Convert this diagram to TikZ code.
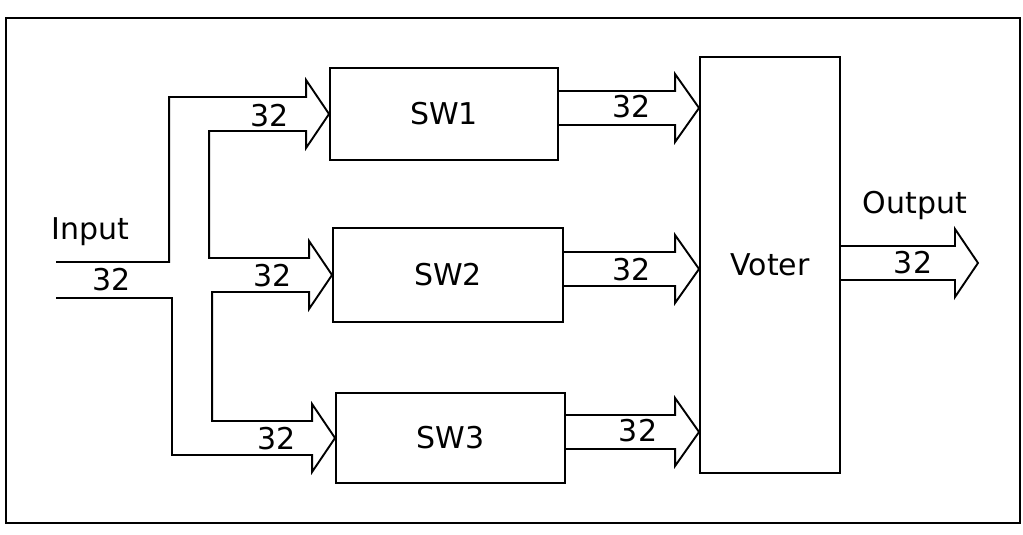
\documentclass[tikz,border=0pt]{standalone}
\usepackage{fontspec}
\setmainfont{DejaVu Sans}
\usetikzlibrary{calc}
\begin{document}
\begin{tikzpicture}[x=1pt,y=-1pt,
  every node/.style={font=\fontsize{30}{36}\selectfont},
  block/.style={draw,line width=1.9pt,inner sep=0pt},
  bus/.style={draw,line width=1.9pt,line join=miter},
  lbl/.style={inner sep=0pt,anchor=center}]
\useasboundingbox (0,0) rectangle (1023,535);
\draw[line width=1.9pt] (6,18) rectangle (1020,523);
% blocks
\node[block,minimum width=228pt,minimum height=92pt] (sw1) at (444,114) {SW1};
\node[block,minimum width=230pt,minimum height=94pt] (sw2) at (448,275) {SW2};
\node[block,minimum width=229pt,minimum height=90pt] (sw3) at (450.5,438) {SW3};
\node[block,minimum width=140pt,minimum height=416pt] (voter) at (770,265) {Voter};
% input bus
\coordinate (inU) at (56,262);
\coordinate (inL) at (56,298);
\draw[bus] (inU) -| ($(sw1.west)+(-160,-17)$)
  -- ($(sw1.west)+(-23,-17)$) -- ++(0,-17) -- (sw1.west) -- ($(sw1.west)+(-23,34)$) -- ++(0,-17)
  -| ($(sw2.west)+(-123,-17)$)
  -- ($(sw2.west)+(-23,-17)$) -- ++(0,-17) -- (sw2.west) -- ($(sw2.west)+(-23,34)$) -- ++(0,-17)
  -| ($(sw3.west)+(-123,-17)$)
  -- ($(sw3.west)+(-23,-17)$) -- ++(0,-17) -- (sw3.west) -- ($(sw3.west)+(-23,34)$) -- ++(0,-17)
  -| ($(inL)+(116,0)$) -- (inL);
% outputs of SW blocks to voter
\foreach \s in {sw1,sw2,sw3}{
  \draw[bus] ($(\s.east)+(0,-23)$) -- ($(voter.west |- \s.east)+(-24,-23)$) -- ++(0,-17)
    -- ($(voter.west |- \s.east)+(0,-6)$) -- ($(voter.west |- \s.east)+(-24,28)$) -- ++(0,-17)
    -- ($(\s.east)+(0,11)$);
}
% voter output
\coordinate (outTip) at (978,263);
\draw[bus] ($(voter.east |- outTip)+(0,-17)$) -- ($(outTip)+(-23,-17)$) -- ++(0,-17)
  -- (outTip) -- ($(outTip)+(-23,34)$) -- ++(0,-17) -- ($(voter.east |- outTip)+(0,17)$);
% labels
\node[lbl] (tIn) at (90,232) {Input};
\node[lbl] (nIn) at (112,280) {32};
\node[lbl] (n1) at (270,116) {32};
\node[lbl] (n2) at (273,276) {32};
\node[lbl] (n3) at (277,439) {32};
\node[lbl] (o1) at (632,107) {32};
\node[lbl] (o2) at (632,270) {32};
\node[lbl] (o3) at (638,431) {32};
\node[lbl] (tOut) at (915,205) {Output};
\node[lbl] (nOut) at (913,263) {32};
\end{tikzpicture}
\end{document}
